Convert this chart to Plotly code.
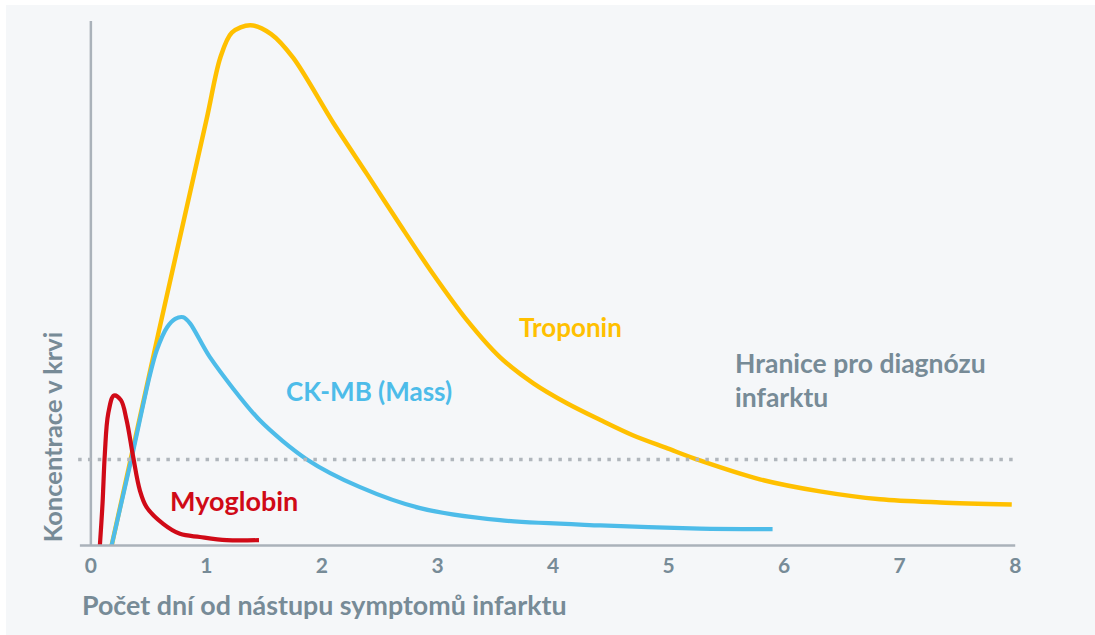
import plotly.graph_objects as go

# ---- data (days, relative concentration 0-100) ----
trop_x = [0.18, 0.59, 1.00, 1.12, 1.22, 1.38, 1.56, 1.75, 2.10, 2.39, 2.68, 2.96, 3.26, 3.54, 3.83, 4.12, 4.41, 4.69, 4.99, 5.27, 5.79, 6.31, 6.83, 7.35, 7.97]
trop_y = [0.0, 41.0, 81.1, 93.0, 97.8, 99.2, 97.5, 93.0, 80.5, 70.8, 61.0, 51.8, 42.8, 35.9, 30.9, 27.1, 23.9, 21.0, 18.5, 16.2, 12.6, 10.3, 8.8, 8.2, 7.8]

ck_x = [0.18, 0.35, 0.50, 0.57, 0.66, 0.73, 0.80, 0.86, 1.03, 1.46, 1.87, 2.33, 2.85, 3.54, 4.41, 5.27, 5.90]
ck_y = [0.0, 16.4, 31.5, 37.2, 41.6, 43.2, 43.5, 42.3, 35.9, 23.9, 16.4, 11.1, 7.1, 4.8, 3.8, 3.2, 3.1]

myo_x = [0.078, 0.101, 0.121, 0.150, 0.200, 0.260, 0.309, 0.366, 0.424, 0.482, 0.626, 0.771, 0.944, 1.175, 1.455]
myo_y = [0.0, 8.0, 17.5, 25.1, 28.6, 27.7, 23.9, 16.9, 10.5, 7.3, 4.1, 2.2, 1.6, 1.0, 1.0]

threshold = 16.4
x_ticks = [0, 1, 2, 3, 4, 5, 6, 7, 8]

GRAY = "#778b97"
AXIS = "#aab2ba"
YEL = "#FFC000"
BLUE = "#4DBCE9"
RED = "#D00A17"
FONT = "Lato"

W, H = 1095, 635
L, R, T, B = 77, 74, 21, 87.4
pw = W - L - R
ph = H - T - B

fig = go.Figure()

fig.add_trace(go.Scatter(x=trop_x, y=trop_y, mode="lines",
                         line=dict(color=YEL, width=4.5, shape="spline", smoothing=0.9),
                         hoverinfo="skip"))
fig.add_trace(go.Scatter(x=ck_x, y=ck_y, mode="lines",
                         line=dict(color=BLUE, width=4.2, shape="spline", smoothing=0.8),
                         hoverinfo="skip"))
fig.add_trace(go.Scatter(x=myo_x, y=myo_y, mode="lines",
                         line=dict(color=RED, width=4.2, shape="spline", smoothing=1.0),
                         hoverinfo="skip"))

shapes = [
    # background panel (white strip top/left)
    dict(type="rect", xref="paper", yref="paper", layer="below",
         x0=(6 - L) / pw, x1=(W - L) / pw, y0=-B / ph, y1=(H - B - 5) / ph,
         fillcolor="#f5f7f9", line=dict(width=0)),
    # vertical axis
    dict(type="line", xref="x", yref="y", x0=0, x1=0, y0=0, y1=100,
         line=dict(color=AXIS, width=2.5)),
    # horizontal axis
    dict(type="line", xref="x", yref="y", x0=-0.095, x1=8.0, y0=0, y1=0,
         line=dict(color=AXIS, width=2.5)),
    # threshold
    dict(type="line", xref="x", yref="y", x0=-0.11, x1=8.03, y0=threshold, y1=threshold,
         line=dict(color="#b0b6bc", width=3.5, dash="3.5px,6.3px")),
]

annotations = [
    dict(x=3.69, y=41.6, xref="x", yref="y", text="<b>Troponin</b>", showarrow=False,
         xanchor="left", yanchor="middle", font=dict(family=FONT, size=26, color=YEL)),
    dict(x=1.67, y=29.4, xref="x", yref="y", text="<b>CK-MB (Mass)</b>", showarrow=False,
         xanchor="left", yanchor="middle", font=dict(family=FONT, size=26, color=BLUE)),
    dict(x=0.67, y=8.6, xref="x", yref="y", text="<b>Myoglobin</b>", showarrow=False,
         xanchor="left", yanchor="middle", font=dict(family=FONT, size=27, color=RED)),
    dict(x=5.56, y=31.6, xref="x", yref="y", text="<b>Hranice pro diagnózu<br>infarktu</b>",
         showarrow=False, align="left", xanchor="left", yanchor="middle",
         font=dict(family=FONT, size=26.5, color=GRAY)),
    dict(x=(52 - L) / pw, y=20.6, xref="paper", yref="y", text="<b>Koncentrace v krvi</b>",
         showarrow=False, textangle=-90, xanchor="center", yanchor="middle",
         font=dict(family=FONT, size=25.5, color=GRAY)),
    dict(x=(80 - L) / pw, y=(H - B - 605) / ph, xref="paper", yref="paper",
         text="<b>Počet dní od nástupu symptomů infarktu</b>",
         showarrow=False, xanchor="left", yanchor="middle",
         font=dict(family=FONT, size=26.8, color=GRAY)),
]

fig.update_layout(
    width=W, height=H,
    margin=dict(l=L, r=R, t=T, b=B),
    paper_bgcolor="white",
    plot_bgcolor="rgba(0,0,0,0)",
    showlegend=False,
    shapes=shapes,
    annotations=annotations,
    xaxis=dict(range=[-0.12, 8.05], tickvals=x_ticks, ticktext=[str(v) for v in x_ticks],
               showgrid=False, zeroline=False, showline=False, ticks="",
               ticklabelstandoff=3,
               tickfont=dict(family=FONT, size=21, color=GRAY, weight="bold")),
    yaxis=dict(range=[-0.5, 100], showgrid=False, zeroline=False, showline=False,
               showticklabels=False, ticks=""),
)

fig.write_html("out.html", config={"displayModeBar": False},
               post_script="document.body.style.margin='0';")
